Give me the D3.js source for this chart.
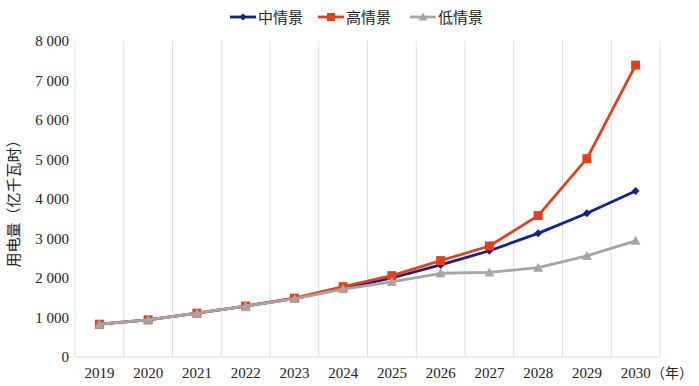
<!DOCTYPE html>
<html><head><meta charset="utf-8">
<script src="https://cdn.jsdelivr.net/npm/d3@7"></script>
<style>body{margin:0;background:#fff;}svg{display:block;}</style>
</head><body>
<svg id="c" width="699" height="386"></svg>
<script>
const years = ["2019","2020","2021","2022","2023","2024","2025","2026","2027","2028","2029","2030"];
const midValues  = [830, 940, 1110, 1290, 1480, 1740, 2000, 2330, 2690, 3130, 3640, 4200];
const highValues = [830, 940, 1110, 1290, 1490, 1780, 2060, 2440, 2810, 3580, 5020, 7390];
const lowValues  = [830, 940, 1110, 1290, 1470, 1720, 1900, 2120, 2140, 2260, 2560, 2940];
const yTicks = [0, 1000, 2000, 3000, 4000, 5000, 6000, 7000, 8000];
const yTickLabels = ["0", "1 000", "2 000", "3 000", "4 000", "5 000", "6 000", "7 000", "8 000"];
const seriesNames = ["中情景", "高情景", "低情景"];

const series = [
  {name: seriesNames[0], values: midValues, color: "#13208e", shape: "diamond"},
  {name: seriesNames[1], values: highValues, color: "#e3401b", shape: "square"},
  {name: seriesNames[2], values: lowValues, color: "#a5a5a5", shape: "triangle"}
];

const svg = d3.select("#c");
const L = 75, R = 660, T = 41, B = 357;
const x = d3.scaleBand().domain(years).range([L, R]);
const y = d3.scaleLinear().domain([0, 8000]).range([B, T]);
const serif = "'Liberation Serif', 'DejaVu Serif', serif";
const cjk = "'Noto Sans CJK SC', sans-serif";

// vertical gridlines at band boundaries
const bounds = years.map(d => x(d)).concat([R]);
svg.append("g").selectAll("line").data(bounds).join("line")
  .attr("x1", d => d).attr("x2", d => d).attr("y1", T).attr("y2", B)
  .attr("stroke", "#dedede").attr("stroke-width", 1);
svg.append("line").attr("x1", L).attr("x2", R).attr("y1", B).attr("y2", B)
  .attr("stroke", "#d9d9d9").attr("stroke-width", 1);

// y axis
const yAxis = d3.axisLeft(y).tickValues(yTicks).tickSize(0).tickPadding(6)
  .tickFormat((d, i) => yTickLabels[i]);
const ya = svg.append("g").attr("transform", `translate(${L},0)`).call(yAxis);
ya.select(".domain").remove();
ya.attr("font-family", null).attr("font-size", null);
ya.selectAll("text").style("font-family", serif).style("font-size", "15px").attr("fill", "#222");

// x axis
const xAxis = d3.axisBottom(x).tickSize(0).tickPadding(10);
const xa = svg.append("g").attr("transform", `translate(0,${B})`).call(xAxis);
xa.select(".domain").remove();
xa.attr("font-family", null).attr("font-size", null);
xa.selectAll("text").style("font-family", serif).style("font-size", "15px").attr("fill", "#222");
svg.append("text").attr("x", 672).attr("y", 378).attr("text-anchor", "middle")
  .style("font-family", cjk).style("font-size", "14px").attr("fill", "#222").text("（年）");

// y title
svg.append("text").attr("transform", "translate(19,200) rotate(-90)")
  .attr("text-anchor", "middle").style("font-family", cjk).style("font-size", "15px")
  .attr("fill", "#222").text("用电量（亿千瓦时）");

function marker(g, shape, color, size) {
  if (shape === "diamond") {
    g.append("path").attr("d", `M0,${-size}L${size},0L0,${size}L${-size},0Z`).attr("fill", color);
  } else if (shape === "square") {
    g.append("rect").attr("x", -size).attr("y", -size).attr("width", 2*size).attr("height", 2*size).attr("fill", color);
  } else {
    g.append("path").attr("d", `M0,${-size-1}L${size+1},${size}L${-size-1},${size}Z`).attr("fill", color);
  }
}
const sizes = {diamond: 4, square: 4.5, triangle: 4};

const line = d3.line().x((d, i) => x(years[i]) + x.bandwidth()/2).y(d => y(d));
series.forEach(s => {
  const g = svg.append("g");
  g.append("path").datum(s.values).attr("d", line).attr("fill", "none")
    .attr("stroke", s.color).attr("stroke-width", 2.8).attr("stroke-linejoin", "round");
  s.values.forEach((v, i) => {
    const mg = g.append("g").attr("transform", `translate(${x(years[i]) + x.bandwidth()/2},${y(v)})`);
    marker(mg, s.shape, s.color, sizes[s.shape]);
  });
});

// legend
const legX = [230, 318, 410];
series.forEach((s, i) => {
  const g = svg.append("g").attr("transform", `translate(${legX[i]},17)`);
  g.append("line").attr("x1", 0).attr("x2", 26).attr("y1", 0).attr("y2", 0)
    .attr("stroke", s.color).attr("stroke-width", 2.8);
  const mg = g.append("g").attr("transform", "translate(13,0)");
  marker(mg, s.shape, s.color, sizes[s.shape] - 0.5);
  g.append("text").attr("x", 28).attr("y", 5.5).style("font-family", cjk).style("font-size", "15px")
    .attr("fill", "#222").text(s.name);
});
</script>
</body></html>
